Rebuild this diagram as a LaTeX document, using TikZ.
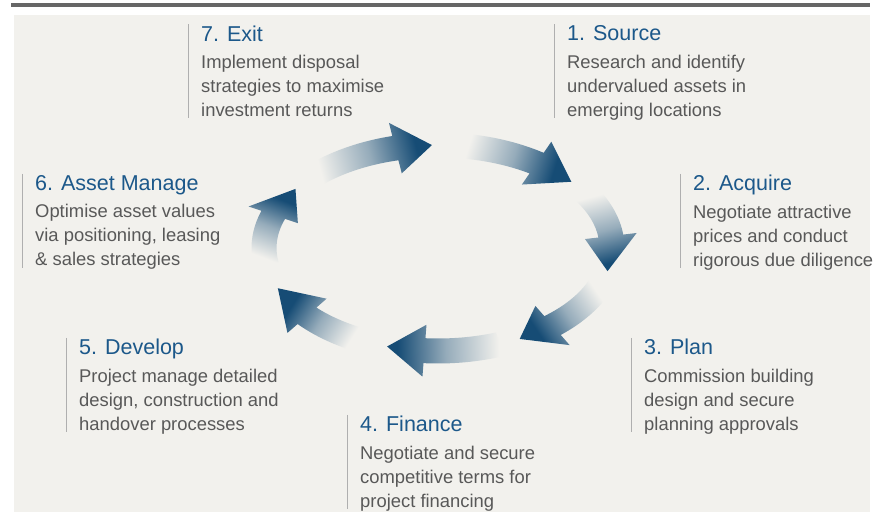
\documentclass[tikz,border=0pt]{standalone}
\usepackage{fontspec}
\setmainfont{Liberation Sans}
\usetikzlibrary{calc}

\definecolor{panel}{RGB}{242,241,237}
\definecolor{bargrey}{RGB}{102,102,102}
\definecolor{titleblue}{RGB}{28,88,138}
\definecolor{bodygrey}{RGB}{88,88,88}
\definecolor{rulegrey}{RGB}{175,175,175}
\definecolor{arrowblue}{RGB}{22,76,117}

\newcommand\titlefont{\fontsize{21.5}{24}\selectfont\color{titleblue}}
\newcommand\bodyfont{\fontsize{18.4}{24}\selectfont}

% fade from the panel colour into the arrow blue
\pgfdeclarehorizontalshading{arrowfade}{100bp}{color(0bp)=(panel); color(27bp)=(panel); color(50bp)=(arrowblue!42!panel); color(71bp)=(arrowblue); color(100bp)=(arrowblue)}

% one curved arrow on the cycle, from tail angle #1 to tip angle #2
\newcommand\cyclearrow[2]{%
    \pgfmathsetmacro\ta{#1}%
    \pgfmathsetmacro\tc{#2}%
    \pgfmathsetmacro\spd{100*sqrt((1.74*sin(\tc))^2+(1.03*cos(\tc))^2)}%
    \pgfmathsetmacro\tb{\tc+deg(37/\spd)}%
    \pgfmathsetmacro\dir{atan2(103*sin(\tc)-103*sin(\ta),174*cos(\tc)-174*cos(\ta))}%
    \shade[shading=arrowfade, shading angle=\dir]
        ($(hub)+({186.5*cos(\ta)},{115.5*sin(\ta)})$)
        arc[start angle=\ta, end angle=\tb, x radius=186.5, y radius=115.5]
        -- ($(hub)+({200*cos(\tb)},{129*sin(\tb)})$)
        -- ($(hub)+({174*cos(\tc)},{103*sin(\tc)})$)
        -- ($(hub)+({148*cos(\tb)},{77*sin(\tb)})$)
        -- ($(hub)+({161.5*cos(\tb)},{90.5*sin(\tb)})$)
        arc[start angle=\tb, end angle=\ta, x radius=161.5, y radius=90.5]
        -- cycle;
}

\begin{document}
\begin{tikzpicture}[x=1pt, y=1pt]
    % Define styles
    \tikzset{
        stage/.style={anchor=north west, inner sep=0pt, align=left, text=bodygrey, font=\bodyfont},
        rule/.style={draw=rulegrey, line width=0.8pt}
    }

    % Page, panel and top bar
    \useasboundingbox (0,0) rectangle (882,516);
    \fill[white] (0,0) rectangle (882,516);
    \fill[panel] (14,4) rectangle (870,501);
    \fill[bargrey] (11,509) rectangle (870,513);

    % Stage labels
    \node[stage] (source) at (567,490.5) {{\titlefont 1. Source}\\[3.5pt]Research and identify\\undervalued assets in\\emerging locations};
    \node[stage] (acquire) at (693,341) {{\titlefont 2. Acquire}\\[3.5pt]Negotiate attractive\\prices and conduct\\rigorous due diligence};
    \node[stage] (plan) at (644,177) {{\titlefont 3. Plan}\\[3.5pt]Commission building\\design and secure\\planning approvals};
    \node[stage] (finance) at (360,100) {{\titlefont 4. Finance}\\[3.5pt]Negotiate and secure\\competitive terms for\\project financing};
    \node[stage] (develop) at (79,177) {{\titlefont 5. Develop}\\[3.5pt]Project manage detailed\\design, construction and\\handover processes};
    \node[stage] (manage) at (35,341) {{\titlefont 6. Asset Manage}\\[3.5pt]Optimise asset values\\via positioning, leasing\\\& sales strategies};
    \node[stage] (exit) at (201,490.5) {{\titlefont 7. Exit}\\[3.5pt]Implement disposal\\strategies to maximise\\investment returns};

    % Rules beside the labels
    \foreach \s in {source,acquire,plan,finance,develop,manage,exit} {
        \draw[rule] ([xshift=-12.5pt,yshift=1pt]\s.north west) -- ++(0,-94);
    }

    % Arrows round the cycle
    \coordinate (hub) at (438,268);
    \foreach \a/\c in {84/40, 31/-13, -21/-62, -69/-107, -117/-157, 189/145, 135/92} {
        \cyclearrow{\a}{\c}
    }
\end{tikzpicture}
\end{document}
